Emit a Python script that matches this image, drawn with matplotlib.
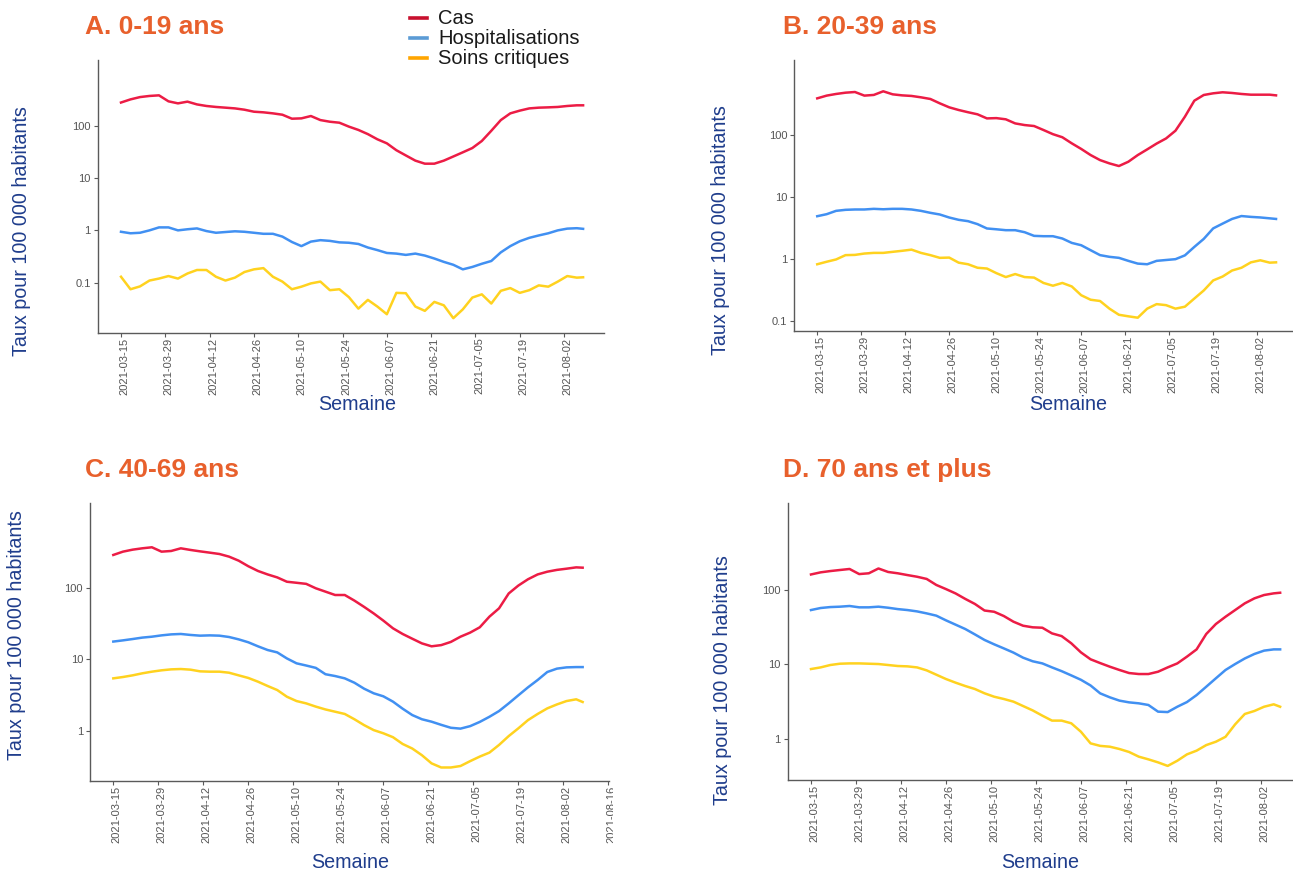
import numpy as np
import matplotlib
matplotlib.use("Agg")
import matplotlib.pyplot as plt
import matplotlib.dates as mdates
from matplotlib.lines import Line2D
from matplotlib.transforms import Bbox, TransformedBbox, IdentityTransform, ScaledTranslation
import datetime as dt

plt.rcParams['font.family'] = ['Liberation Sans', 'DejaVu Sans']

# ---- data: rates per 100 000 inhabitants, sampled every 3 days from 2021-03-15 ----
start = dt.date(2021, 3, 15)
day_offsets = list(range(0, 145, 3)) + [146]
dates = [start + dt.timedelta(days=d) for d in day_offsets]

a_cas = [277, 318, 352, 370, 380, 292, 267, 288, 255, 238, 228, 221, 214, 202, 185,
         180, 172, 162, 136, 138, 153, 128, 119, 114, 96, 83, 69, 55, 46, 34,
         27, 21.5, 18.8, 18.8, 21.5, 25.8, 31, 37.4, 51, 80, 128, 172, 194, 214, 221,
         224, 228, 238, 245, 245]
a_hosp = [0.94, 0.88, 0.90, 1.0, 1.14, 1.14, 1.0, 1.05, 1.09, 0.97, 0.9, 0.93, 0.96, 0.94, 0.9,
          0.86, 0.86, 0.76, 0.60, 0.50, 0.61, 0.65, 0.63, 0.59, 0.58, 0.55, 0.47, 0.42, 0.37, 0.36,
          0.34, 0.36, 0.33, 0.29, 0.25, 0.22, 0.18, 0.20, 0.23, 0.26, 0.38, 0.5, 0.62, 0.72, 0.8,
          0.88, 1.0, 1.08, 1.1, 1.07]
a_crit = [0.13, 0.075, 0.085, 0.11, 0.12, 0.134, 0.12, 0.15, 0.175, 0.175, 0.13, 0.11, 0.125, 0.16, 0.18,
          0.19, 0.13, 0.105, 0.075, 0.084, 0.097, 0.105, 0.072, 0.075, 0.053, 0.032, 0.047, 0.035, 0.025, 0.064,
          0.063, 0.035, 0.029, 0.043, 0.037, 0.021, 0.031, 0.052, 0.06, 0.04, 0.07, 0.079, 0.064, 0.072, 0.089,
          0.084, 0.105, 0.134, 0.125, 0.127]

b_cas = [385, 426, 453, 475, 487, 426, 437, 500, 447, 430, 421, 400, 376, 320, 276,
         250, 230, 213, 183, 185, 177, 152, 143, 138, 119, 102, 91, 72.6, 59, 47,
         39, 34.5, 31.3, 36.7, 47, 58, 72, 87, 116, 195, 353, 436, 464, 482, 470,
         453, 441, 441, 441, 430]
b_hosp = [4.87, 5.25, 5.94, 6.17, 6.25, 6.25, 6.4, 6.3, 6.4, 6.4, 6.25, 5.94, 5.52, 5.19, 4.64,
          4.26, 4.05, 3.63, 3.09, 3.0, 2.9, 2.9, 2.69, 2.35, 2.32, 2.32, 2.13, 1.81, 1.66, 1.38,
          1.15, 1.08, 1.04, 0.93, 0.84, 0.82, 0.93, 0.96, 0.99, 1.14, 1.56, 2.1, 3.1, 3.7, 4.4,
          4.9, 4.75, 4.65, 4.5, 4.4]
b_crit = [0.82, 0.9, 0.98, 1.15, 1.16, 1.22, 1.25, 1.25, 1.3, 1.35, 1.41, 1.25, 1.15, 1.04, 1.05,
          0.87, 0.82, 0.72, 0.7, 0.59, 0.51, 0.57, 0.51, 0.5, 0.41, 0.37, 0.41, 0.36, 0.26, 0.22,
          0.21, 0.158, 0.126, 0.119, 0.113, 0.158, 0.187, 0.18, 0.158, 0.17, 0.23, 0.31, 0.45, 0.52, 0.65,
          0.72, 0.88, 0.95, 0.87, 0.88]

c_cas = [286, 318, 339, 354, 366, 318, 325, 354, 336, 321, 308, 295, 271, 238, 199,
         171, 153, 139, 121, 117, 113, 98, 88, 79, 79, 66, 54, 43.7, 34.7, 27.1,
         22.6, 19.4, 16.7, 15.2, 15.8, 17.5, 20.7, 23.6, 28, 39.4, 51.5, 83, 107, 131, 153,
         167, 177, 184, 192, 190]
c_hosp = [17.7, 18.4, 19.2, 20.1, 20.7, 21.6, 22.3, 22.6, 21.9, 21.4, 21.6, 21.4, 20.5, 19.0, 17.3,
          15.2, 13.5, 12.5, 10.3, 8.8, 8.2, 7.6, 6.2, 5.85, 5.43, 4.72, 3.9, 3.36, 3.05, 2.57,
          2.05, 1.67, 1.46, 1.35, 1.22, 1.11, 1.08, 1.17, 1.34, 1.58, 1.9, 2.43, 3.15, 4.07, 5.15,
          6.66, 7.42, 7.73, 7.8, 7.8]
c_crit = [5.43, 5.67, 5.98, 6.38, 6.73, 7.03, 7.25, 7.33, 7.18, 6.8, 6.73, 6.73, 6.51, 5.98, 5.5,
          4.88, 4.25, 3.73, 3.01, 2.62, 2.43, 2.19, 2.0, 1.86, 1.73, 1.46, 1.21, 1.03, 0.93, 0.82,
          0.66, 0.57, 0.46, 0.354, 0.31, 0.31, 0.325, 0.38, 0.44, 0.5, 0.64, 0.85, 1.09, 1.42, 1.73,
          2.07, 2.35, 2.62, 2.77, 2.54]

d_cas = [162, 173, 180, 186, 192, 164, 168, 195, 175, 168, 159, 151, 141, 117, 103,
         90, 76, 65, 53, 51, 44.7, 37.5, 33.1, 31.5, 31.1, 26.1, 24, 19.2, 14.5, 11.7,
         10.4, 9.3, 8.4, 7.64, 7.41, 7.41, 7.96, 9.1, 10.3, 12.7, 15.9, 25.6, 34.9, 43.7, 53.8,
         66.2, 77.3, 85.7, 90.2, 92]
d_hosp = [53.8, 57.3, 59, 59.7, 61, 58.5, 58.5, 59.7, 57.8, 55.4, 53.8, 51.6, 48.5, 45.2, 39.1,
          34.2, 29.9, 25.3, 21.3, 18.6, 16.4, 14.4, 12.3, 11, 10.3, 9.1, 8.1, 7.1, 6.2, 5.2,
          4.07, 3.6, 3.25, 3.08, 2.99, 2.84, 2.31, 2.28, 2.69, 3.11, 3.86, 5.0, 6.49, 8.4, 10.1,
          12.0, 13.8, 15.3, 15.9, 15.9]
d_crit = [8.65, 9.1, 9.8, 10.2, 10.3, 10.3, 10.2, 10.1, 9.8, 9.5, 9.4, 9.1, 8.3, 7.26, 6.35,
          5.67, 5.11, 4.66, 4.08, 3.67, 3.42, 3.15, 2.75, 2.4, 2.04, 1.75, 1.75, 1.61, 1.24, 0.865,
          0.8, 0.78, 0.726, 0.662, 0.573, 0.527, 0.48, 0.43, 0.505, 0.615, 0.69, 0.82, 0.91, 1.06, 1.56,
          2.15, 2.36, 2.69, 2.9, 2.69]

titles = ["A. 0-19 ans", "B. 20-39 ans", "C. 40-69 ans", "D. 70 ans et plus"]
series_labels = ["Cas", "Hospitalisations", "Soins critiques"]
tick_dates = [start + dt.timedelta(days=14 * k) for k in range(11)]
extra_tick = start + dt.timedelta(days=154)

# ---- styling ----
W, H = 1293, 872
LINE_COLORS = ["#EC1C45", "#4190F2", "#FFD21F"]
KEY_COLORS = ["#C8102E", "#5B9BD5", "#FFA500"]
TITLE_COLOR = "#E8602C"
LABEL_COLOR = "#1F3D8C"
AXIS_COLOR = "#5a5a5a"
TICK_TEXT = "#555555"

fig = plt.figure(figsize=(W / 100, H / 100), dpi=100)
fig.patch.set_facecolor("white")


def px_axes(x0, x1, ytop, ybot):
    return fig.add_axes([x0 / W, 1 - ybot / H, (x1 - x0) / W, (ybot - ytop) / H])


panels = [
    dict(box=(97.7, 604.3, 60, 332.7), xl=(-7.36, 152.7), yl=(10 ** -1.955, 10 ** 3.255),
         yt=[0.1, 1, 10, 100], data=(a_cas, a_hosp, a_crit), extra=False),
    dict(box=(794.3, 1293, 60, 331), xl=(-7.3, 151.4), yl=(10 ** -1.161, 10 ** 3.203),
         yt=[0.1, 1, 10, 100], data=(b_cas, b_hosp, b_crit), extra=False),
    dict(box=(90, 609, 503.3, 780.7), xl=(-7.25, 154.2), yl=(10 ** -0.693, 10 ** 3.177),
         yt=[1, 10, 100], data=(c_cas, c_hosp, c_crit), extra=True),
    dict(box=(787.7, 1293, 503.3, 780.3), xl=(-7.25, 150.0), yl=(10 ** -0.56, 10 ** 3.167),
         yt=[1, 10, 100], data=(d_cas, d_hosp, d_crit), extra=False),
]

title_pos = [(85, 27), (783, 27), (85, 470), (783, 470)]
ylabel_pos = [(22, 231), (721, 230), (17, 635), (722, 680)]
xlabel_pos = [(357, 405), (1068, 405), (350, 862), (1040, 862)]

x_dates = mdates.date2num(dates)
x0_num = mdates.date2num(start)
label_shift = ScaledTranslation(3.5 / 100, 0, fig.dpi_scale_trans)

for i, p in enumerate(panels):
    ax = px_axes(*p["box"])
    for vals, col in zip(p["data"], LINE_COLORS):
        ax.plot(x_dates, vals, color=col, lw=1.8, solid_joinstyle="round")
    ax.set_yscale("log")
    ax.set_ylim(*p["yl"])
    ax.set_xlim(x0_num + p["xl"][0], x0_num + p["xl"][1])
    ax.yaxis.set_major_locator(matplotlib.ticker.FixedLocator(p["yt"]))
    ax.yaxis.set_minor_locator(matplotlib.ticker.NullLocator())
    ax.set_yticklabels([("%g" % v) for v in p["yt"]])
    tks = list(tick_dates) + ([extra_tick] if p["extra"] else [])
    ax.set_xticks(mdates.date2num(tks))
    ax.set_xticklabels([t.strftime("%Y-%m-%d") for t in tks], rotation=90)
    for side in ("top", "right"):
        ax.spines[side].set_visible(False)
    for side in ("left", "bottom"):
        ax.spines[side].set_color(AXIS_COLOR)
        ax.spines[side].set_linewidth(1.0)
    ax.tick_params(axis="both", which="major", length=3, width=0.8, color=AXIS_COLOR,
                   labelcolor=TICK_TEXT, labelsize=8, pad=2)
    ax.tick_params(axis="x", pad=0.5)
    ax.patch.set_alpha(0)
    for lab in ax.get_xticklabels():
        lab.set_transform(lab.get_transform() + label_shift)
    if p["extra"]:
        clip = TransformedBbox(Bbox([[0, 0], [613, H]]), IdentityTransform())
        for lab in ax.get_xticklabels():
            lab.set_clip_on(True)
            lab.set_clip_box(clip)

    tx, ty = title_pos[i]
    fig.text(tx / W, 1 - ty / H, titles[i], color=TITLE_COLOR, fontsize=19,
             fontweight="bold", ha="left", va="center")
    lx, ly = ylabel_pos[i]
    fig.text(lx / W, 1 - ly / H, "Taux pour 100 000 habitants", color=LABEL_COLOR,
             fontsize=14.2, rotation=90, ha="center", va="center")
    sx, sy = xlabel_pos[i]
    fig.text(sx / W, 1 - sy / H, "Semaine", color=LABEL_COLOR, fontsize=14.2,
             ha="center", va="center")

# legend drawn in figure pixel coordinates
for k, (lab, col) in enumerate(zip(series_labels, KEY_COLORS)):
    yy = 1 - (18 + 20 * k) / H
    fig.add_artist(Line2D([410 / W, 427 / W], [yy, yy], color=col, lw=2.6,
                          transform=fig.transFigure))
    fig.text(438 / W, yy, lab, fontsize=14.5, color="#1a1a1a", ha="left", va="center")

fig.savefig("out.png", dpi=100, facecolor="white")
